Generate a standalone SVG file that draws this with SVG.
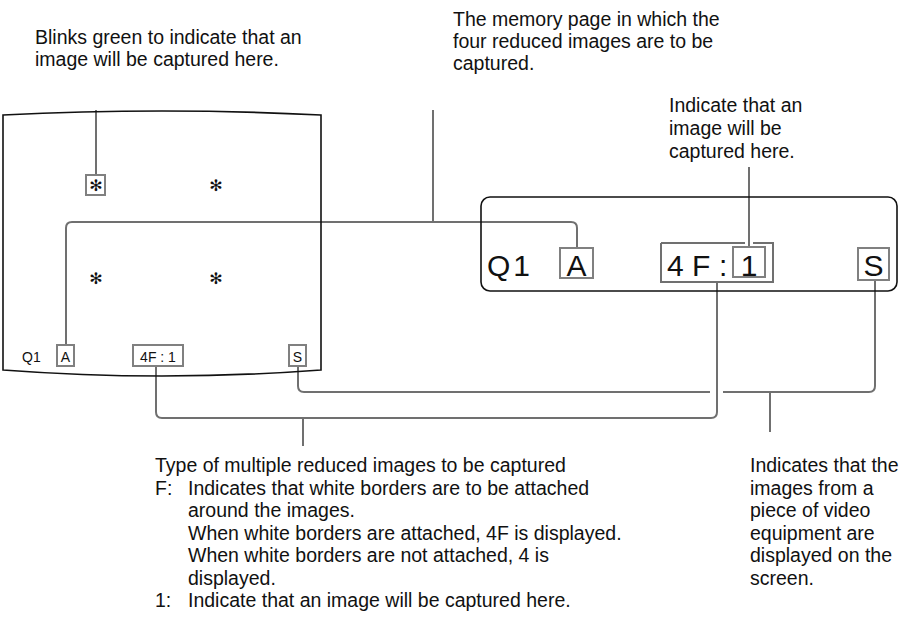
<svg xmlns="http://www.w3.org/2000/svg" width="919" height="622" viewBox="0 0 919 622">
<style>
text{font-family:"Liberation Sans",Arial,sans-serif;fill:#111}
.t{font-size:19.5px}
.s{font-size:14px}
.big{font-size:30px}
.star{font-family:"DejaVu Sans",sans-serif;font-size:16px;text-anchor:middle}
.frame{fill:none;stroke:#111;stroke-width:1.6}
.lbl{fill:#fff;stroke:#808080;stroke-width:2}
.ld{fill:none;stroke:#707070;stroke-width:2}
</style>
<rect width="919" height="622" fill="#fff"/>
<g id="connectors">
<path class="ld" d="M96,110V175"/>
<path class="ld" d="M433,110V222"/>
<path class="ld" d="M66,345V228Q66,222 72,222H571Q577,222 577,228V248"/>
<path class="ld" d="M749,167V247"/>
<path class="ld" d="M298,366V386Q298,392 304,392H710M723,392H869Q875,392 875,386V280"/>
<path class="ld" d="M156,366V412Q156,418 162,418H711Q717,418 717,412V282"/>
<path class="ld" d="M303,418V446"/>
<path class="ld" d="M770,392V432"/>
</g>
<g id="screen">
<path class="frame" d="M3,115Q162,107 321,115V370Q162,382 3,370Z"/>
<rect class="lbl" x="86" y="175" width="19" height="20"/>
<text class="star" x="96" y="191">✻</text>
<text class="star" x="216" y="191">✻</text>
<text class="star" x="96" y="284">✻</text>
<text class="star" x="216" y="284">✻</text>
<text class="s" x="22" y="362">Q1</text>
<rect class="lbl" x="57" y="345" width="17" height="21"/>
<text class="s" x="65.5" y="362" text-anchor="middle" font-size="15">A</text>
<rect class="lbl" x="133" y="345" width="50" height="21"/>
<text class="s" x="158" y="362" text-anchor="middle">4F : 1</text>
<rect class="lbl" x="289" y="345" width="17" height="21"/>
<text class="s" x="297.5" y="362" text-anchor="middle" font-size="15">S</text>
</g>
<g id="display">
<rect x="481" y="197" width="416" height="94" rx="9" fill="none" stroke="#111" stroke-width="1.6"/>
<text class="big" x="487" y="276" letter-spacing="3">Q1</text>
<rect class="lbl" x="560" y="248" width="33" height="30"/>
<text class="big" x="576.5" y="276" text-anchor="middle">A</text>
<path class="ld" d="M661,243H745M753,243H773V282H661V243" stroke="#808080"/>
<text class="big" x="667" y="276">4</text>
<text class="big" x="692" y="276">F</text>
<text class="big" x="719" y="276">:</text>
<rect class="lbl" x="733" y="247" width="32" height="30"/>
<text class="big" x="749" y="276" text-anchor="middle">1</text>
<rect class="lbl" x="858" y="248" width="31" height="32"/>
<text class="big" x="873.5" y="276" text-anchor="middle">S</text>
</g>
<g id="label-blink">
<text class="t" x="35" y="44">Blinks green to indicate that an</text>
<text class="t" x="35" y="66">image will be captured here.</text>
</g>
<g id="label-memory">
<text class="t" x="453" y="26">The memory page in which the</text>
<text class="t" x="453" y="48">four reduced images are to be</text>
<text class="t" x="453" y="70">captured.</text>
</g>
<g id="label-indicate">
<text class="t" x="669" y="112">Indicate that an</text>
<text class="t" x="669" y="135">image will be</text>
<text class="t" x="669" y="158">captured here.</text>
</g>
<g id="label-type">
<text class="t" x="155" y="472">Type of multiple reduced images to be captured</text>
<text class="t" x="155" y="495">F:</text>
<text class="t" x="188" y="495">Indicates that white borders are to be attached</text>
<text class="t" x="188" y="517">around the images.</text>
<text class="t" x="188" y="540">When white borders are attached, 4F is displayed.</text>
<text class="t" x="188" y="562">When white borders are not attached, 4 is</text>
<text class="t" x="188" y="585">displayed.</text>
<text class="t" x="155" y="607">1:</text>
<text class="t" x="188" y="607">Indicate that an image will be captured here.</text>
</g>
<g id="label-video">
<text class="t" x="750" y="472">Indicates that the</text>
<text class="t" x="750" y="495">images from a</text>
<text class="t" x="750" y="517">piece of video</text>
<text class="t" x="750" y="540">equipment are</text>
<text class="t" x="750" y="562">displayed on the</text>
<text class="t" x="750" y="585">screen.</text>
</g>
</svg>
